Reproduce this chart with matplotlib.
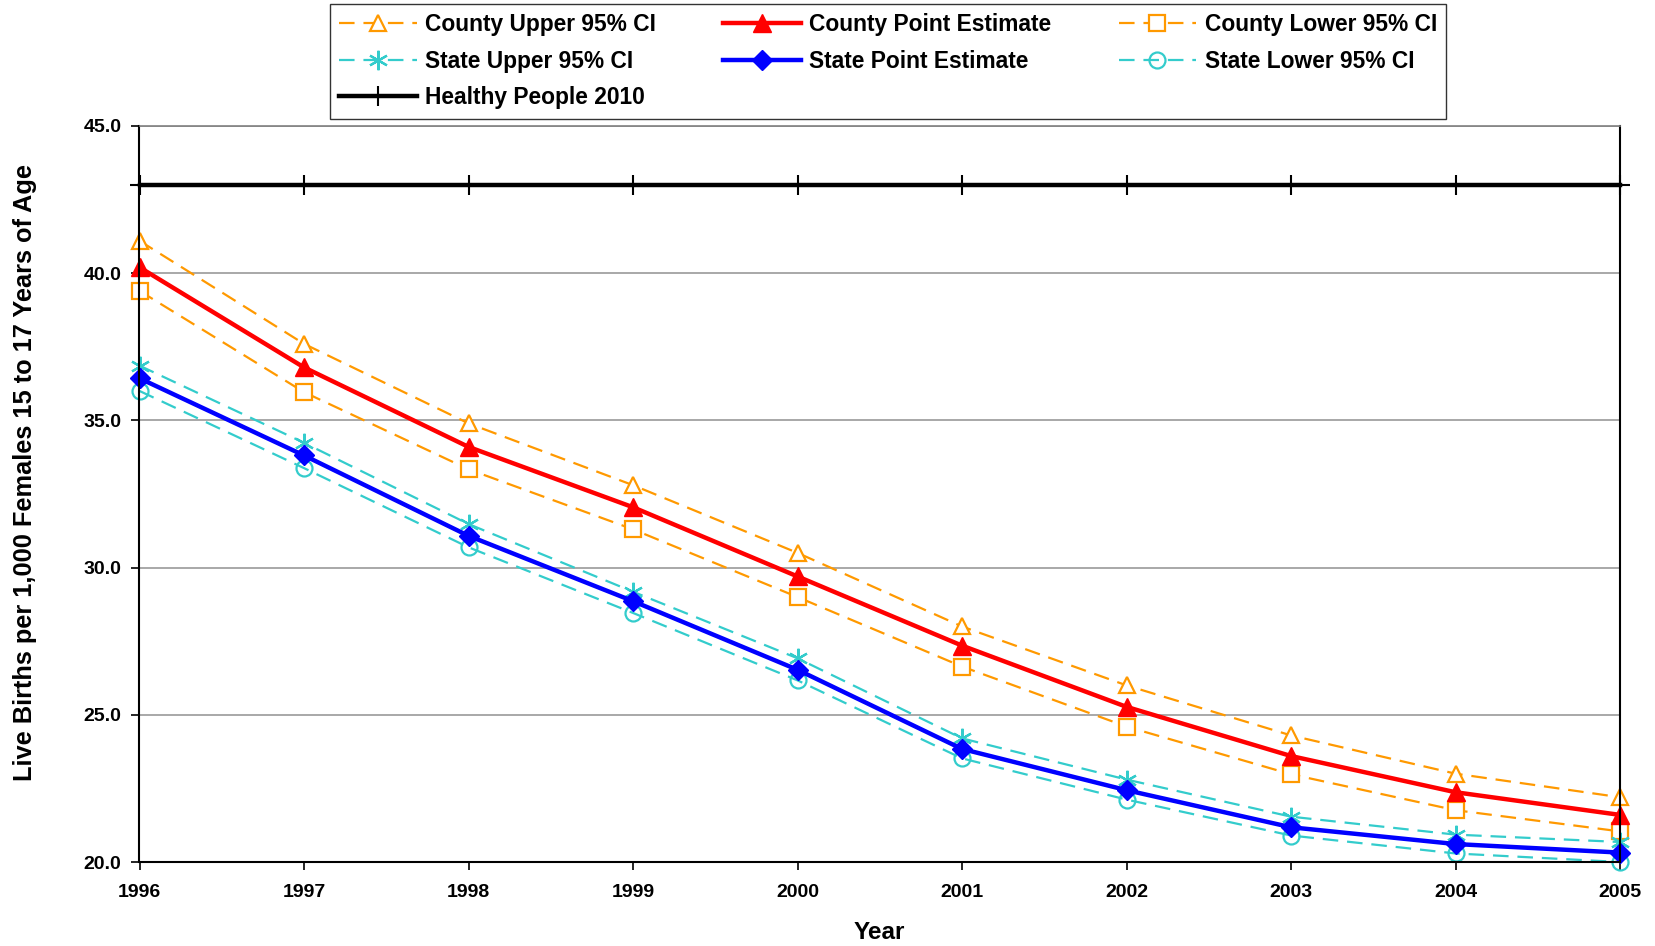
import numpy as np
import matplotlib
matplotlib.use("Agg")
import matplotlib.pyplot as plt
from matplotlib.lines import Line2D

plt.rcParams['font.family'] = ['Liberation Sans', 'DejaVu Sans']
plt.rcParams['font.weight'] = 'bold'

# data
years = [1996, 1997, 1998, 1999, 2000, 2001, 2002, 2003, 2004, 2005]
county_upper = [41.1, 37.6, 34.9, 32.8, 30.5, 28.0, 26.0, 24.3, 23.0, 22.2]
county_point = [40.2, 36.8, 34.1, 32.05, 29.7, 27.35, 25.27, 23.6, 22.37, 21.6]
county_lower = [39.4, 35.96, 33.34, 31.3, 29.0, 26.64, 24.6, 22.98, 21.76, 21.04]
state_upper = [36.86, 34.24, 31.48, 29.18, 26.92, 24.2, 22.8, 21.54, 20.93, 20.68]
state_point = [36.43, 33.81, 31.08, 28.86, 26.53, 23.84, 22.44, 21.18, 20.61, 20.32]
state_lower = [36.0, 33.38, 30.69, 28.46, 26.17, 23.52, 22.12, 20.9, 20.29, 20.0]
healthy_people = [43.0] * len(years)
y_ticks = [20, 25, 30, 35, 40, 45]

ORANGE = '#FF9900'
CYAN = '#33CCCC'

fig = plt.figure(figsize=(16.56, 9.46), dpi=100)
ax = fig.add_axes([139.5 / 1656, 84 / 946, (1620 - 139.5) / 1656, (862 - 126) / 946])

# gridlines
ax.set_axisbelow(True)
ax.yaxis.grid(True, color='#999999', linewidth=1.2)

dash = dict(linestyle='--', dashes=(7, 4), linewidth=1.6, clip_on=False)
cu, = ax.plot(years, county_upper, color=ORANGE, marker='^', markersize=12,
              markerfacecolor='white', markeredgewidth=1.6, label='County Upper 95% CI', **dash)
cl, = ax.plot(years, county_lower, color=ORANGE, marker='s', markersize=11.5,
              markerfacecolor='white', markeredgewidth=1.6, label='County Lower 95% CI', **dash)
su, = ax.plot(years, state_upper, color=CYAN, marker=(6, 2, 0), markersize=14,
              markeredgewidth=1.6, label='State Upper 95% CI', **dash)
sl, = ax.plot(years, state_lower, color=CYAN, marker='o', markersize=11.5,
              markerfacecolor='none', markeredgewidth=1.6, label='State Lower 95% CI', **dash)
cp, = ax.plot(years, county_point, color='#FF0000', linewidth=3.2, marker='^', markersize=13,
              label='County Point Estimate', clip_on=False)
sp, = ax.plot(years, state_point, color='#0000FF', linewidth=3.2, marker='D', markersize=10,
              label='State Point Estimate', clip_on=False)
hp, = ax.plot(years, healthy_people, color='black', linewidth=3.2, marker='+', markersize=14,
              markeredgewidth=1.5, label='Healthy People 2010', clip_on=False)

ax.set_xlim(1996, 2005)
ax.set_ylim(20, 45)
ax.set_xticks(years)
ax.set_xticklabels([str(y) for y in years], fontsize=14, fontweight='bold')
ax.set_yticks(y_ticks)
ax.set_yticklabels(['%.1f' % v for v in y_ticks], fontsize=14, fontweight='bold')
ax.tick_params(axis='x', direction='out', length=6, width=1.2, pad=10)
ax.tick_params(axis='y', direction='out', length=6, width=1.2, pad=7)

for s in ['left', 'bottom', 'right']:
    ax.spines[s].set_color('black')
    ax.spines[s].set_linewidth(1.5)
ax.spines['top'].set_color('#808080')
ax.spines['top'].set_linewidth(1.2)

ax.set_xlabel('Year', fontsize=17.5, fontweight='bold', labelpad=14)
ax.set_ylabel('Live Births per 1,000 Females 15 to 17 Years of Age', fontsize=18.3,
              fontweight='bold')
ax.yaxis.set_label_coords(-0.069, 0.529)

blank = Line2D([], [], alpha=0)
handles = [cu, su, hp, cp, sp, blank, cl, sl]
labels = [h.get_label() if h is not blank else '' for h in handles]
leg = fig.legend(handles, labels, ncol=3, loc='upper left',
                 bbox_to_anchor=(330 / 1656, 1 - 4 / 946),
                 prop={'weight': 'bold', 'size': 16.4},
                 frameon=True, fancybox=False, edgecolor='black', handlelength=3.4,
                 handletextpad=0.38, columnspacing=2.95, labelspacing=0.6,
                 borderaxespad=0, borderpad=0.4)
leg.get_frame().set_linewidth(1.0)

fig.savefig('out.png', dpi=100)
